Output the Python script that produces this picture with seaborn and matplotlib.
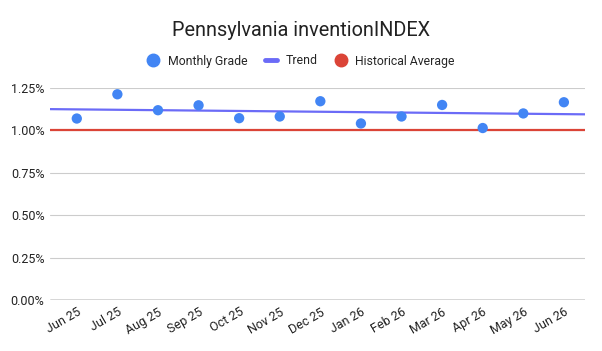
import numpy as np
import pandas as pd
import matplotlib
matplotlib.use("Agg")
import matplotlib.pyplot as plt
from matplotlib.lines import Line2D
from matplotlib.ticker import FuncFormatter
import seaborn as sns

months = ["Jun 25", "Jul 25", "Aug 25", "Sep 25", "Oct 25", "Nov 25", "Dec 25",
          "Jan 26", "Feb 26", "Mar 26", "Apr 26", "May 26", "Jun 26"]
grades = [1.070, 1.213, 1.119, 1.148, 1.072, 1.082, 1.172,
          1.041, 1.082, 1.150, 1.014, 1.100, 1.166]
historical_avg = 1.00
y_ticks = [0.0, 0.25, 0.5, 0.75, 1.0, 1.25]

sns.set_theme(style="white")
plt.rcParams['font.family'] = ['Roboto', 'DejaVu Sans']

df = pd.DataFrame({"pos": np.arange(len(months)), "grade": grades})

fig = plt.figure(figsize=(6.02, 3.51), dpi=100)
ax = fig.add_axes([50 / 602, 1 - 300 / 351, 535 / 602, 212 / 351])

x_lo, x_hi = -0.66, 12.52
ax.set_xlim(x_lo, x_hi)
ax.set_ylim(0, 1.25)

# gridlines
for t in y_ticks[1:]:
    ax.axhline(t, color="#cccccc", lw=0.8, zorder=0)
ax.axhline(0, color="#333333", lw=1.0, zorder=1)

# historical average
ax.axhline(historical_avg, color="#db4437", lw=1.6, zorder=2)

# linear trend
slope, intercept = np.polyfit(df["pos"], df["grade"], 1)
trend = pd.DataFrame({"pos": [x_lo, x_hi]})
trend["val"] = slope * trend["pos"] + intercept
sns.lineplot(data=trend, x="pos", y="val", ax=ax, color="#6b6bf7", lw=1.6, zorder=3)

sns.scatterplot(data=df, x="pos", y="grade", ax=ax, color="#4285f4", s=55,
                edgecolor="none", zorder=4, clip_on=False)

ax.set_xticks(df["pos"])
ax.set_xticklabels(months, rotation=30, ha="right", rotation_mode="anchor",
                   fontsize=9, color="#222222")
ax.set_yticks(y_ticks)
ax.yaxis.set_major_formatter(FuncFormatter(lambda v, p: f"{v:.2f}%"))
ax.tick_params(axis="y", labelsize=9, colors="#222222", length=0, pad=4)
ax.tick_params(axis="x", length=0, pad=4)
ax.set_xlabel("")
ax.set_ylabel("")
for s in ax.spines.values():
    s.set_visible(False)

fig.suptitle("Pennsylvania inventionINDEX", y=1 - 30 / 351, va="center",
             fontsize=14.3, color="#222222")

handles = [
    Line2D([], [], marker="o", ls="none", color="#4285f4", markersize=9),
    Line2D([], [], color="#6b6bf7", lw=3.5),
    Line2D([], [], marker="o", ls="none", color="#db4437", markersize=9),
]
fig.legend(handles, ["Monthly Grade", "Trend", "Historical Average"],
           loc="center", bbox_to_anchor=(0.5, 1 - 61 / 351), ncol=3,
           frameon=False, fontsize=8.8, handlelength=1.0, handletextpad=0.7,
           columnspacing=1.4)

fig.savefig("out.png", dpi=100)
